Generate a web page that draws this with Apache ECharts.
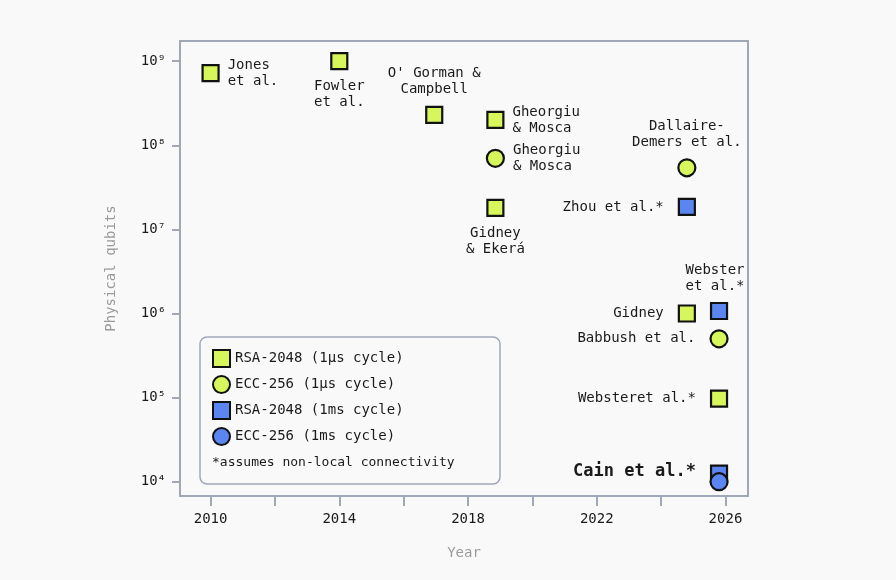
<!DOCTYPE html>
<html><head><meta charset="utf-8">
<script src="https://cdn.jsdelivr.net/npm/echarts@6/dist/echarts.min.js"></script>
<style>html,body{margin:0;background:#f9f9fa}#c{width:896px;height:580px}</style></head>
<body><div id="c"></div>
<script>
const seriesNames=['RSA-2048 (1μs cycle)','ECC-256 (1μs cycle)','RSA-2048 (1ms cycle)','ECC-256 (1ms cycle)'];
// [year, qubits, label, labelPosition]
const rsaFast=[[2010,7.2e8,'Jones\net al.','right'],[2014,1e9,'Fowler\net al.','bottom'],[2016.95,2.3e8,"O' Gorman &\nCampbell",'top'],[2018.85,2e8,'Gheorgiu\n& Mosca','right'],[2018.85,1.8e7,'Gidney\n& Ekerá','bottom'],[2024.8,1e6,'Gidney','left'],[2025.8,9.7e4,'Websteret al.*','left']];
const eccFast=[[2018.85,7e7,'Gheorgiu\n& Mosca','right'],[2024.8,5.4e7,'Dallaire-\nDemers et al.','top'],[2025.8,5e5,'Babbush et al.','left']];
const rsaSlow=[[2024.8,1.85e7,'Zhou et al.*','left'],[2025.8,1.07e6,'Webster\net al.*','top'],[2025.8,1.25e4,'Cain et al.*','left']];
const eccSlow=[[2025.8,1e4,'','left']];
const yTicks=[4,5,6,7,8,9];
const xTicks=[2010,2012,2014,2016,2018,2020,2022,2024,2026];
const xLabels=[2010,2014,2018,2022,2026];
const F='DejaVu Sans Mono';
const sup={4:'⁴',5:'⁵',6:'⁶',7:'⁷',8:'⁸',9:'⁹'};
function mk(arr){
  return arr.map(d=>{
    const bold=d[2].startsWith('Cain');
    const pos=d[3];
    const lbl={show:!!d[2],formatter:d[2],position:pos,distance:pos==='left'?14:8,
      color:'#1a1a1a',fontFamily:F,fontSize:bold?17:14,fontWeight:bold?'bold':'normal',lineHeight:16,
      align:pos==='left'?'right':(pos==='right'?'left':'center')};
    if(d[2].startsWith('Webster\n'))lbl.offset=[-4,0];
    if(d[2].startsWith('Cain'))lbl.offset=[0,-2];
    return {value:[d[0],Math.log10(d[1])],label:lbl};
  });
}
const chart=echarts.init(document.getElementById('c'));
const ms={borderColor:'#111',borderWidth:2.2,opacity:1};
chart.setOption({
  backgroundColor:'#f9f9fa',
  grid:{left:180,right:148,top:41,bottom:84,show:true,borderColor:'#a0a8b8',borderWidth:2},
  xAxis:{type:'value',min:2009.05,max:2026.7,name:'Year',nameLocation:'middle',nameGap:50,
    nameTextStyle:{color:'#9a9a9a',fontFamily:F,fontSize:14},
    axisLine:{show:true,lineStyle:{color:'#a0a8b8',width:2}},
    axisTick:{show:true,customValues:xTicks,length:10,lineStyle:{color:'#a0a8b8',width:2}},
    axisLabel:{customValues:xLabels,color:'#1a1a1a',fontFamily:F,fontSize:14,margin:16,formatter:v=>String(v)},
    splitLine:{show:false}},
  yAxis:{type:'value',min:3.83,max:9.24,name:'Physical qubits',nameLocation:'middle',nameGap:62,
    nameTextStyle:{color:'#9a9a9a',fontFamily:F,fontSize:14},
    axisLine:{show:true,lineStyle:{color:'#a0a8b8',width:2}},
    axisTick:{show:true,customValues:yTicks,length:8,lineStyle:{color:'#a0a8b8',width:2}},
    axisLabel:{customValues:yTicks,color:'#1a1a1a',fontFamily:F,fontSize:14,margin:14,formatter:v=>'10'+sup[v]},
    splitLine:{show:false}},
  legend:{orient:'vertical',left:210,top:347,itemWidth:17,itemHeight:17,itemGap:7,padding:2,
    textStyle:{fontFamily:F,fontSize:14,color:'#1a1a1a'},
    itemStyle:{borderColor:'#111',borderWidth:2},
    data:seriesNames.map((n,i)=>({name:n,icon:i%2?'circle':'rect'}))},
  graphic:[
    {type:'rect',z:-1,shape:{x:200,y:337,width:300,height:147,r:7},style:{fill:'#f9f9fa',stroke:'#a0a8b8',lineWidth:1.5}},
    {type:'text',left:212,top:456,style:{text:'*assumes non-local connectivity',fontFamily:F,fontSize:13,fill:'#1a1a1a'}}
  ],
  series:[
    {name:seriesNames[0],type:'scatter',symbol:'rect',symbolSize:16,itemStyle:{color:'#d6f65c',...ms},data:mk(rsaFast)},
    {name:seriesNames[1],type:'scatter',symbol:'circle',symbolSize:17,itemStyle:{color:'#d6f65c',...ms},data:mk(eccFast)},
    {name:seriesNames[2],type:'scatter',symbol:'rect',symbolSize:16,itemStyle:{color:'#5b86f2',...ms},data:mk(rsaSlow)},
    {name:seriesNames[3],type:'scatter',symbol:'circle',symbolSize:17,itemStyle:{color:'#5b86f2',...ms},data:mk(eccSlow)}
  ]
});
</script></body></html>
